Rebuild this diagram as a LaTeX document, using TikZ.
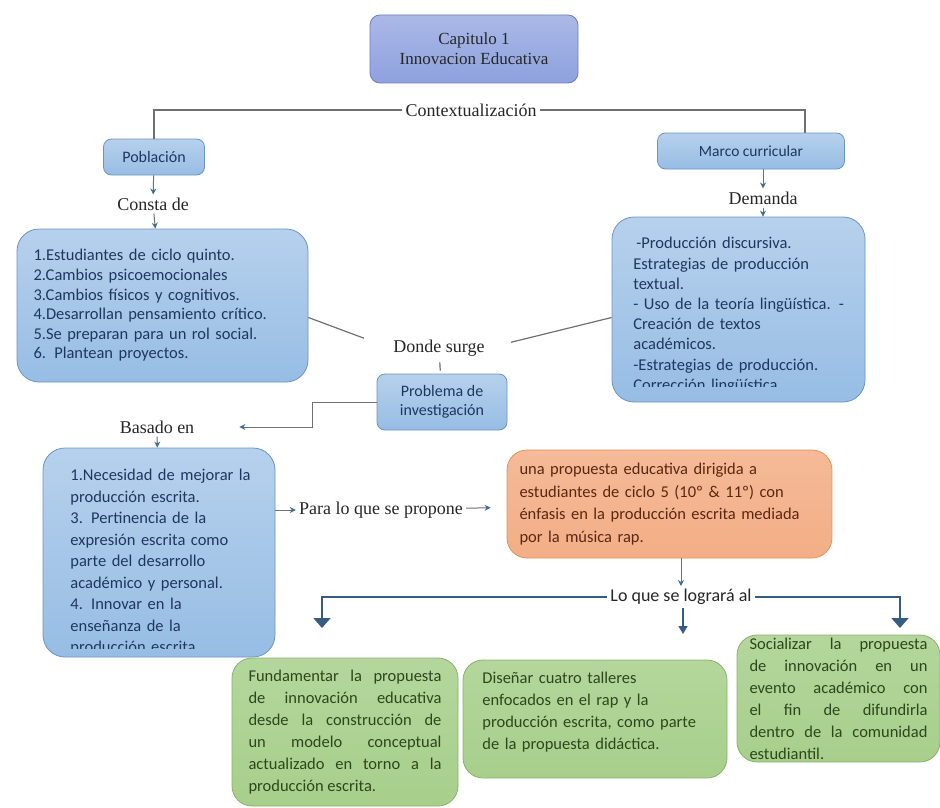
\documentclass[tikz,border=0pt]{standalone}
\usepackage{fontspec}
\setmainfont{Liberation Serif}
\newfontfamily\boxfont{Carlito}
\usetikzlibrary{arrows.meta}

\definecolor{capfill}{HTML}{8EA1DE}
\definecolor{capline}{HTML}{6D7FBF}
\definecolor{blufill}{HTML}{97BDE4}
\definecolor{bluline}{HTML}{6B93C6}
\definecolor{blutext}{HTML}{1F3760}
\definecolor{orafill}{HTML}{F3AE86}
\definecolor{oraline}{HTML}{E0925F}
\definecolor{oratext}{HTML}{5A2810}
\definecolor{grnfill}{HTML}{A7CF8B}
\definecolor{grnline}{HTML}{88B26C}
\definecolor{grntext}{HTML}{2C471C}
\definecolor{lnk}{HTML}{707070}
\definecolor{arr}{HTML}{3F6C98}

\tikzset{bx/.style  = {rounded corners=8pt, draw=bluline, thick, top color=blufill!70!white, bottom color=blufill,
                       text=blutext, inner sep=0pt, align=center},
         big/.style = {bx, rounded corners=22pt},
         org/.style = {rounded corners=20pt, draw=oraline, thick, top color=orafill!85!white, bottom color=orafill,
                       text=oratext, inner sep=0pt},
         grn/.style = {rounded corners=20pt, draw=grnline, thick, top color=grnfill!85!white, bottom color=grnfill,
                       text=grntext, inner sep=0pt},
         lb/.style  = {font=\fontsize{18}{20}\selectfont, text=black!85, inner sep=3pt},
         lk/.style  = {draw=lnk, line width=1.2pt},
         ar/.style  = {draw=lnk, line width=1pt, -{Stealth[length=6pt, width=6pt, color=arr]}},
         br/.style  = {draw=arr!85!black, line width=1.8pt, -{Triangle[length=10pt, width=17pt]}},
         inr/.style = {anchor=north west, inner sep=0pt, align=left, draw=none, minimum width=0pt, minimum height=0pt}}

\begin{document}
\begin{tikzpicture}[x=1pt, y=-1pt]
    \useasboundingbox (0,0) rectangle (940,808);
    % top
    \node[bx, draw=capline, top color=capfill!75!white, bottom color=capfill, text=black!85, rounded corners=10pt,
          minimum width=208, minimum height=68, font=\fontsize{17}{20}\selectfont] (cap) at (474,49)
          {Capitulo 1\\Innovacion Educativa};
    \node[lb] (ctx) at (471,110) {Contextualización};
    \node[bx, minimum width=101, minimum height=36, font=\boxfont\fontsize{16}{18}\selectfont] (pob) at (154,157) {Población};
    \node[bx, minimum width=187, minimum height=36, font=\boxfont\fontsize{15.5}{18}\selectfont] (mar) at (751,151) {Marco curricular};
    \node[lb] (con) at (153,204) {Consta de};
    \node[lb] (dmd) at (763,198) {Demanda};
    % left and right lists
    \node[big, minimum width=291, minimum height=153, text width=258, align=left,
          font=\boxfont\fontsize{16.5}{19.6}\selectfont] (pop) at (162.5,305.5)
          {1.Estudiantes de ciclo quinto.\\2.Cambios psicoemocionales\\3.Cambios físicos y cognitivos.\\
           4.Desarrollan pensamiento crítico.\\5.Se preparan para un rol social.\\6. Plantean proyectos.};
    \node[big, minimum width=253, minimum height=185, path picture={
          \clip (path picture bounding box.north west) rectangle ([yshift=16]path picture bounding box.south east);
          \node[inr, text width=222, text=blutext, font=\boxfont\fontsize{16.5}{20.2}\selectfont]
          at ([shift={(21,20)}]path picture bounding box.north west)
          {\hspace*{3pt}-Producción discursiva.\\Estrategias de producción\\textual.\\- Uso de la teoría lingüística. -\\
           Creación de textos\\académicos.\\-Estrategias de producción.\\Corrección lingüística};}] (dem) at (738.5,309.5) {};
    % middle
    \node[lb] (don) at (439,348) {Donde surge};
    \node[bx, minimum width=130, minimum height=56, font=\boxfont\fontsize{16}{19}\selectfont] (pro) at (442,402)
          {Problema de\\investigación};
    \node[lb] (bas) at (157,427) {Basado en};
    \node[big, minimum width=232, minimum height=209, path picture={
          \clip (path picture bounding box.north west) rectangle ([yshift=9]path picture bounding box.south east);
          \node[inr, text width=205, text=blutext, font=\boxfont\fontsize{16.5}{21.5}\selectfont]
          at ([shift={(27,21)}]path picture bounding box.north west)
          {1.Necesidad de mejorar la\\producción escrita.\\3. Pertinencia de la\\expresión escrita como\\parte del desarrollo\\
           académico y personal.\\4. Innovar en la\\enseñanza de la\\producción escrita};}] (nec) at (159,552.5) {};
    \node[lb] (prp) at (381,510) {Para lo que se propone};
    \node[org, minimum width=325, minimum height=108, text width=300, align=left,
          font=\boxfont\fontsize{16.5}{22.8}\selectfont] (ora) at (669.5,504)
          {una propuesta educativa dirigida a\\estudiantes de ciclo 5 (10º \& 11º) con\\
           énfasis en la producción escrita mediada\\por la música rap.};
    \node[lb, font=\boxfont\fontsize{18}{20}\selectfont] (log) at (681,597) {Lo que se logrará al};
    % bottom
    \node[grn, minimum width=226, minimum height=148, text width=193, align=justify,
          font=\boxfont\fontsize{16.5}{22}\selectfont] (ga) at (345,732)
          {Fundamentar la propuesta\linebreak de innovación educativa\linebreak desde la construcción de\linebreak
           un modelo conceptual\linebreak actualizado en torno a la\linebreak producción escrita.};
    \node[grn, minimum width=264, minimum height=118, path picture={
          \node[inr, text width=235, text=grntext, font=\boxfont\fontsize{16.5}{22}\selectfont]
          at ([shift={(19,12)}]path picture bounding box.north west)
          {Diseñar cuatro talleres\\enfocados en el rap y la\\producción escrita, como parte\\de la propuesta didáctica.};}]
          (gb) at (595,719) {};
    \node[grn, minimum width=203, minimum height=127, text width=178, align=justify,
          font=\boxfont\fontsize{16.5}{22}\selectfont] (gc) at (838.5,698.5)
          {Socializar la propuesta\linebreak de innovación en un\linebreak evento académico con\linebreak
           el fin de difundirla\linebreak dentro de la comunidad\linebreak estudiantil.};
    \coordinate (ea) at (322,628);
    \coordinate (eb) at (683,634);
    \coordinate (ec) at (900,628);

    \draw[lk] (ctx.west) -| (pob.north);
    \draw[lk] (ctx.east) -| ([xshift=54]mar.north);
    \draw[ar] (pob) -- (con);
    \draw[ar] (con) -- (pop);
    \draw[ar] (dmd |- mar.south) -- (dmd);
    \draw[ar] (dmd) -- (dmd |- dem.north);
    \draw[lk, shorten >=28pt] ([yshift=-12]pop.east) -- (don.west);
    \draw[lk, shorten <=24pt] (don.east) -- ([yshift=-8]dem.west);
    \draw[lk, shorten <=3pt, shorten >=3pt] (don) -- (pro);
    \draw[ar, shorten >=42pt] (pro.west) -- ++(-64,0) |- (bas.east);
    \draw[ar] (bas) -- (nec);
    \draw[ar] (nec.east |- prp) -- (prp);
    \draw[ar, shorten >=16pt] (prp) -- (ora);
    \draw[ar] (ora.south -| log) -- (log);
    \draw[br] (log.west) -| (ea);
    \draw[br] (log.east) -| (ec);
    \draw[br, line width=1.4pt, -{Triangle[length=8pt, width=9pt]}] (log.south -| eb) -- (eb);
\end{tikzpicture}
\end{document}
